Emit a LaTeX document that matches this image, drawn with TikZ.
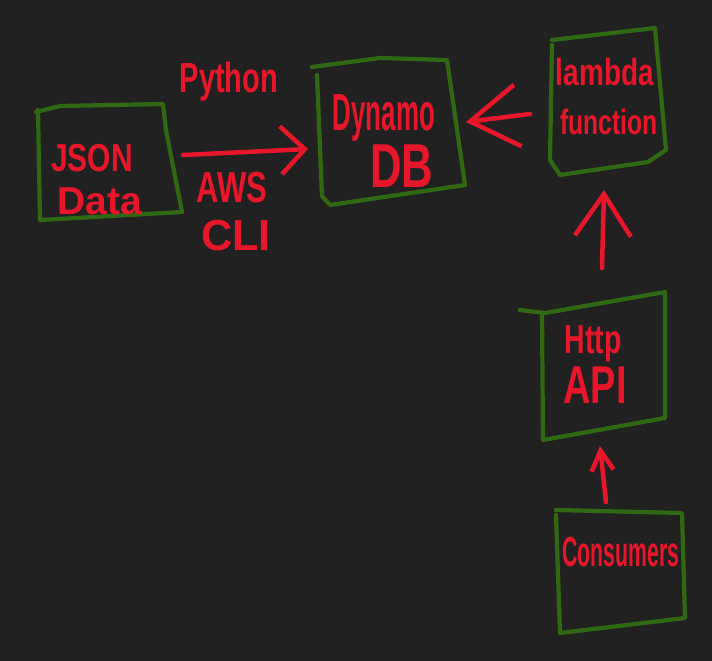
\documentclass[tikz,border=0pt]{standalone}
\usepackage{fontspec}
\usepackage{graphicx}
\setmainfont{Liberation Sans}
\usetikzlibrary{arrows.meta}
\definecolor{bg}{RGB}{33,33,33}
\definecolor{boxgreen}{RGB}{48,104,20}
\definecolor{inkred}{RGB}{232,22,42}
\tikzset{
  sketchbox/.style={draw=boxgreen, line width=4.2pt, line join=round, line cap=round},
  lbl/.style={text=inkred, inner sep=0pt, align=center},
  arr/.style={draw=inkred, line width=4.5pt, line cap=round, line join=round}
}
\newcommand{\fs}[1]{\fontsize{#1}{#1}\selectfont\bfseries}
\begin{document}
\begin{tikzpicture}[x=1pt,y=-1pt]
\fill[bg] (0,0) rectangle (712,661);
\useasboundingbox (0,0) rectangle (712,661);

% boxes
\draw[sketchbox] (36,112) -- (60,106) -- (163,104) -- (166,130) -- (182,212) -- (40,220) -- (38,110);
\draw[sketchbox] (312,67) -- (380,58) -- (447,60) -- (465,185) -- (330,205) -- (322,196) -- (317,75);
\draw[sketchbox] (552,40) -- (655,28) -- (666,150) -- (648,162) -- (560,175) -- (550,160) -- (552,45);
\draw[sketchbox] (520,310) -- (545,313) -- (665,292) -- (665,418) -- (543,440) -- (542,313);
\draw[sketchbox] (556,510) -- (682,513) -- (685,618) -- (560,633) -- (556,515);

% text nodes
\node[lbl, font=\fs{30}] (json) at (92,158) {\scalebox{1}[1.3]{JSON}};
\node[lbl, font=\fs{30}] (data) at (100,201) {\scalebox{1.3}[1.3]{Data}};
\node[lbl, font=\fs{29}] (python) at (229,82) {\scalebox{1}[1.45]{Python}};
\node[lbl, font=\fs{31}] (aws) at (232,188) {\scalebox{1}[1.4]{AWS}};
\node[lbl, font=\fs{31}] (cli) at (236,236) {\scalebox{1.4}[1.4]{CLI}};
\node[lbl, font=\fs{36}] (dynamo) at (384,118) {\scalebox{0.72}[1.45]{Dynamo}};
\node[lbl, font=\fs{46}] (db) at (402,166) {\scalebox{0.95}[1.35]{DB}};
\node[lbl, font=\fs{28}] (lambda) at (605,72) {\scalebox{1}[1.35]{lambda}};
\node[lbl, font=\fs{26}] (function) at (609,122) {\scalebox{0.95}[1.35]{function}};
\node[lbl, font=\fs{30}] (http) at (593,344) {\scalebox{0.95}[1.35]{Http}};
\node[lbl, font=\fs{38}] (api) at (595,385) {\scalebox{1}[1.4]{API}};
\node[lbl, font=\fs{28}] (consumers) at (621,552) {\scalebox{0.76}[1.5]{Consumers}};

% connector end points
\coordinate (jsonE) at (183,155);
\coordinate (dynW) at (308,149);
\coordinate (dynE) at (466,122);
\coordinate (lamW) at (530,114);
\coordinate (lamS) at (604,190);
\coordinate (httpN) at (602,268);
\coordinate (httpS) at (600,446);
\coordinate (consN) at (606,502);

% connectors
\draw[arr, -{Straight Barb[length=24pt,width=48pt,line width=4.5pt]}] (jsonE) -- (dynW);
\draw[arr, -{Straight Barb[length=48pt,width=62pt,line width=4.5pt]}] (lamW) -- (dynE);
\draw[arr, -{Straight Barb[length=42pt,width=56pt,line width=4.5pt]}] (httpN) -- (lamS);
\draw[arr, -{Straight Barb[length=20pt,width=22pt,line width=4.5pt]}] (consN) -- (httpS);
\end{tikzpicture}
\end{document}
